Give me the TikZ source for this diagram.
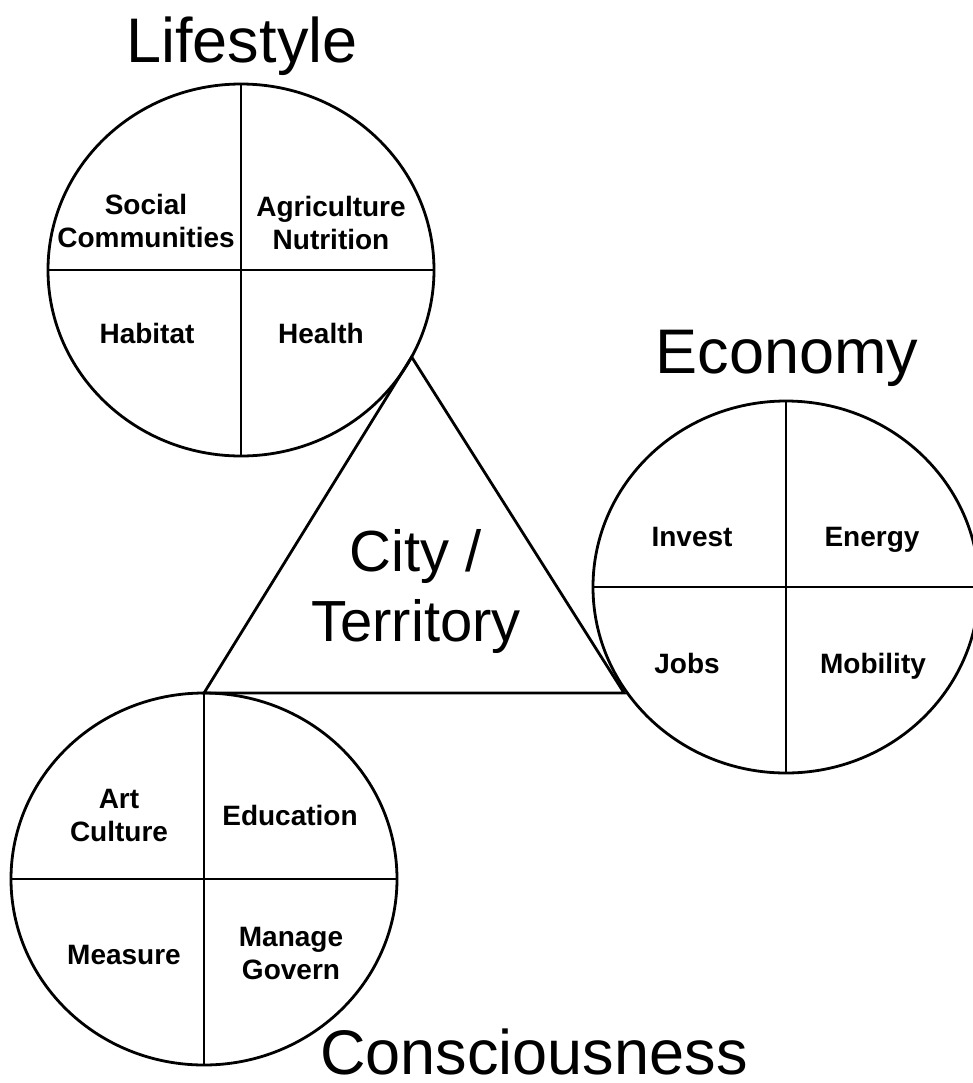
\documentclass[tikz,border=0pt]{standalone}
\usepackage{fontspec}
\setmainfont{Liberation Sans}
\usetikzlibrary{shapes.geometric}
\tikzset{
  sphere/.style={draw, ellipse, minimum width=193pt, minimum height=186pt, inner sep=0pt, outer sep=0pt},
  quad/.style={font=\fontsize{14}{16.5}\selectfont\bfseries, align=center, inner sep=0pt, text depth=0pt},
  title/.style={font=\fontsize{31.5}{38}\selectfont, anchor=base, inner sep=0pt},
}
\begin{document}
\begin{tikzpicture}[x=0.5pt, y=-0.5pt, line width=1.4pt]
    \useasboundingbox (0,0) rectangle (973,1083);
    % Draw the three circles
    \node[sphere] (life) at (241,270) {};
    \node[sphere] (econ) at (786,587) {};
    \node[sphere] (cons) at (204,879) {};
    \foreach \c in {life,econ,cons} {
        \draw (\c.north) -- (\c.south);
        \draw (\c.west) -- (\c.east);
    }
    % Draw the triangle
    \coordinate (vtop) at (life.-27);
    \coordinate (vleft) at (cons.north);
    \coordinate (vright) at (econ.212 |- vleft);
    \draw (vtop) -- (vleft) -- (vright) -- cycle;
    \node[font=\fontsize{29}{35}\selectfont, align=center, inner sep=0pt] (city) at (416,591) {City /\\Territory};
    % Titles
    \node[title] (ltitle) at (242,62) {Lifestyle};
    \node[title] (etitle) at (787,373) {Economy};
    \node[title] (ctitle) at (534,1074) {Consciousness};
    % Lifestyle quarters
    \node[quad] (social) at (146,221) {Social\\Communities};
    \node[quad] (agri) at (331,223) {Agriculture\\Nutrition};
    \node[quad] (habitat) at (147,333) {Habitat};
    \node[quad] (health) at (321,333) {Health};
    % Economy quarters
    \node[quad] (invest) at (692,537) {Invest};
    \node[quad] (energy) at (872,537) {Energy};
    \node[quad] (jobs) at (687,663) {Jobs};
    \node[quad] (mobility) at (873,663) {Mobility};
    % Consciousness quarters
    \node[quad] (art) at (119,815) {Art\\Culture};
    \node[quad] (edu) at (290,815) {Education};
    \node[quad] (measure) at (124,955) {Measure};
    \node[quad] (manage) at (291,953) {Manage\\Govern};
\end{tikzpicture}
\end{document}
